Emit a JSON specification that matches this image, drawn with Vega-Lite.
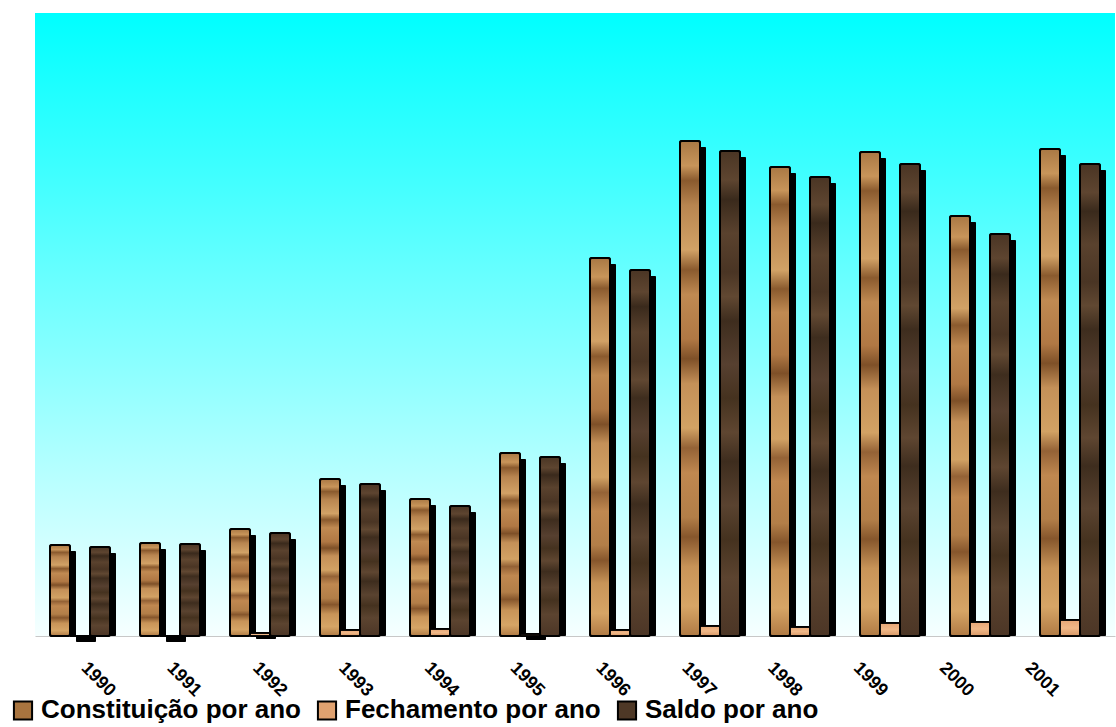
{
  "$schema": "https://vega.github.io/schema/vega-lite/v6.json",
  "width": 1080,
  "height": 623,
  "autosize": {"type": "none"},
  "padding": {"left": 35, "top": 13, "right": 1, "bottom": 91},
  "background": "white",
  "config": {
    "font": "Liberation Sans",
    "view": {
      "stroke": null,
      "fill": {
        "gradient": "linear",
        "x1": 0, "y1": 0, "x2": 0, "y2": 1,
        "stops": [
          {"offset": 0, "color": "#00FFFF"},
          {"offset": 1, "color": "#F6FFFF"}
        ]
      }
    }
  },
  "data": {
    "values": [
      {"ano": "1990", "serie": "Constituição por ano", "valor": 876},
      {"ano": "1990", "serie": "Fechamento por ano", "valor": 0},
      {"ano": "1990", "serie": "Saldo por ano", "valor": 857},
      {"ano": "1991", "serie": "Constituição por ano", "valor": 896},
      {"ano": "1991", "serie": "Fechamento por ano", "valor": 0},
      {"ano": "1991", "serie": "Saldo por ano", "valor": 886},
      {"ano": "1992", "serie": "Constituição por ano", "valor": 1030},
      {"ano": "1992", "serie": "Fechamento por ano", "valor": 29},
      {"ano": "1992", "serie": "Saldo por ano", "valor": 992},
      {"ano": "1993", "serie": "Constituição por ano", "valor": 1512},
      {"ano": "1993", "serie": "Fechamento por ano", "valor": 58},
      {"ano": "1993", "serie": "Saldo por ano", "valor": 1464},
      {"ano": "1994", "serie": "Constituição por ano", "valor": 1319},
      {"ano": "1994", "serie": "Fechamento por ano", "valor": 67},
      {"ano": "1994", "serie": "Saldo por ano", "valor": 1252},
      {"ano": "1995", "serie": "Constituição por ano", "valor": 1762},
      {"ano": "1995", "serie": "Fechamento por ano", "valor": 19},
      {"ano": "1995", "serie": "Saldo por ano", "valor": 1724},
      {"ano": "1996", "serie": "Constituição por ano", "valor": 3640},
      {"ano": "1996", "serie": "Fechamento por ano", "valor": 58},
      {"ano": "1996", "serie": "Saldo por ano", "valor": 3525},
      {"ano": "1997", "serie": "Constituição por ano", "valor": 4767},
      {"ano": "1997", "serie": "Fechamento por ano", "valor": 96},
      {"ano": "1997", "serie": "Saldo por ano", "valor": 4671},
      {"ano": "1998", "serie": "Constituição por ano", "valor": 4517},
      {"ano": "1998", "serie": "Fechamento por ano", "valor": 87},
      {"ano": "1998", "serie": "Saldo por ano", "valor": 4420},
      {"ano": "1999", "serie": "Constituição por ano", "valor": 4661},
      {"ano": "1999", "serie": "Fechamento por ano", "valor": 125},
      {"ano": "1999", "serie": "Saldo por ano", "valor": 4545},
      {"ano": "2000", "serie": "Constituição por ano", "valor": 4045},
      {"ano": "2000", "serie": "Fechamento por ano", "valor": 135},
      {"ano": "2000", "serie": "Saldo por ano", "valor": 3871},
      {"ano": "2001", "serie": "Constituição por ano", "valor": 4690},
      {"ano": "2001", "serie": "Fechamento por ano", "valor": 154},
      {"ano": "2001", "serie": "Saldo por ano", "valor": 4545}
    ]
  },
  "resolve": {"scale": {"xOffset": "independent", "y": "independent"}},
  "layer": [
    {
      "description": "drop shadows: same bars, shifted right by the band align and down by a shifted y domain",
      "mark": {"type": "bar", "color": "black", "cornerRadius": 1},
      "encoding": {
        "x": {"field": "ano", "type": "nominal", "scale": {"paddingInner": 0, "paddingOuter": 0},
          "axis": {
            "title": null, "ticks": false, "domainColor": "#C8C8C8", "domainWidth": 1,
            "labelAngle": 45, "labelAlign": "left", "labelBaseline": "middle",
            "labelFont": "Liberation Sans", "labelFontWeight": "bold", "labelFontSize": 18,
            "labelColor": "black", "labelPadding": 29,
            "labelOffset": {"expr": "4 - datum.index * 46"}
          }},
        "xOffset": {"field": "serie", "type": "nominal",
          "scale": {"domain": ["Constituição por ano", "Fechamento por ano", "Saldo por ano"], "paddingInner": 0, "paddingOuter": 0.75, "align": 0.7}},
        "y": {"field": "valor", "type": "quantitative", "axis": null,
          "scale": {"domain": [58, 6058], "zero": false, "nice": false}},
        "y2": {"datum": 58}
      }
    },
    {
      "mark": {"type": "bar", "stroke": "black", "strokeWidth": 2, "cornerRadius": 2},
      "encoding": {
        "x": {"field": "ano", "type": "nominal", "scale": {"paddingInner": 0, "paddingOuter": 0}},
        "xOffset": {"field": "serie", "type": "nominal",
          "scale": {"domain": ["Constituição por ano", "Fechamento por ano", "Saldo por ano"], "paddingInner": 0, "paddingOuter": 0.75}},
        "y": {"field": "valor", "type": "quantitative", "axis": null,
          "scale": {"domain": [0, 6000], "nice": false}},
        "color": {
          "field": "serie", "type": "nominal",
          "scale": {"domain": ["Constituição por ano", "Fechamento por ano", "Saldo por ano"],
                    "range": ["#A8743F", "#E0A270", "#4E3826"]},
          "legend": {
            "title": null, "orient": "none", "legendX": -25, "legendY": 684,
            "direction": "horizontal", "padding": 0,
            "symbolType": "square", "symbolSize": 330, "symbolStrokeColor": "black",
            "symbolStrokeWidth": 2, "symbolOpacity": 1,
            "labelFont": "Liberation Sans", "labelFontWeight": "bold", "labelFontSize": 26,
            "labelColor": "black", "labelOffset": 5, "columnPadding": 12, "labelLimit": 400
          }
        }
      }
    },
    {
      "transform": [{"filter": "datum.serie === 'Constituição por ano'"}],
      "mark": {"type": "bar", "stroke": "black", "strokeWidth": 2, "cornerRadius": 2,
        "fill": {
          "gradient": "linear", "x1": 0, "y1": 0, "x2": 0, "y2": 1,
          "stops": [
            {"offset": 0, "color": "#A97844"},
            {"offset": 0.05, "color": "#C8955A"},
            {"offset": 0.08, "color": "#8A5A2E"},
            {"offset": 0.13, "color": "#B88550"},
            {"offset": 0.22, "color": "#D2A266"},
            {"offset": 0.26, "color": "#8A5A2E"},
            {"offset": 0.31, "color": "#C08A52"},
            {"offset": 0.4, "color": "#B07844"},
            {"offset": 0.44, "color": "#7E5028"},
            {"offset": 0.49, "color": "#C49058"},
            {"offset": 0.58, "color": "#D2A264"},
            {"offset": 0.62, "color": "#946236"},
            {"offset": 0.67, "color": "#C08850"},
            {"offset": 0.76, "color": "#B27E48"},
            {"offset": 0.8, "color": "#86562C"},
            {"offset": 0.86, "color": "#C89458"},
            {"offset": 0.94, "color": "#D6A566"},
            {"offset": 1, "color": "#B07A44"}
          ]
        }},
      "encoding": {
        "x": {"field": "ano", "type": "nominal", "scale": {"paddingInner": 0, "paddingOuter": 0}},
        "xOffset": {"field": "serie", "type": "nominal",
          "scale": {"domain": ["Constituição por ano", "Fechamento por ano", "Saldo por ano"], "paddingInner": 0, "paddingOuter": 0.75}},
        "y": {"field": "valor", "type": "quantitative", "axis": null,
          "scale": {"domain": [0, 6000], "nice": false}}
      }
    },
    {
      "transform": [{"filter": "datum.serie === 'Fechamento por ano'"}],
      "mark": {"type": "bar", "stroke": "black", "strokeWidth": 1.5, "cornerRadius": 1,
        "fill": {
          "gradient": "linear", "x1": 0, "y1": 0, "x2": 0, "y2": 1,
          "stops": [
            {"offset": 0, "color": "#E6A676"},
            {"offset": 0.5, "color": "#F0B888"},
            {"offset": 1, "color": "#D89866"}
          ]
        }},
      "encoding": {
        "x": {"field": "ano", "type": "nominal", "scale": {"paddingInner": 0, "paddingOuter": 0}},
        "xOffset": {"field": "serie", "type": "nominal",
          "scale": {"domain": ["Constituição por ano", "Fechamento por ano", "Saldo por ano"], "paddingInner": 0, "paddingOuter": 0.75}},
        "y": {"field": "valor", "type": "quantitative", "axis": null,
          "scale": {"domain": [0, 6000], "nice": false}}
      }
    },
    {
      "transform": [{"filter": "datum.serie === 'Saldo por ano'"}],
      "mark": {"type": "bar", "stroke": "black", "strokeWidth": 2, "cornerRadius": 2,
        "fill": {
          "gradient": "linear", "x1": 0, "y1": 0, "x2": 0, "y2": 1,
          "stops": [
            {"offset": 0, "color": "#4A3524"},
            {"offset": 0.06, "color": "#5E4530"},
            {"offset": 0.1, "color": "#3A2A1C"},
            {"offset": 0.17, "color": "#5A422E"},
            {"offset": 0.25, "color": "#4A3524"},
            {"offset": 0.3, "color": "#614832"},
            {"offset": 0.35, "color": "#3E2D1E"},
            {"offset": 0.44, "color": "#574030"},
            {"offset": 0.51, "color": "#45321F"},
            {"offset": 0.58, "color": "#5F4631"},
            {"offset": 0.64, "color": "#3E2D1E"},
            {"offset": 0.73, "color": "#5A4330"},
            {"offset": 0.8, "color": "#45321F"},
            {"offset": 0.88, "color": "#5C4430"},
            {"offset": 1, "color": "#4C3626"}
          ]
        }},
      "encoding": {
        "x": {"field": "ano", "type": "nominal", "scale": {"paddingInner": 0, "paddingOuter": 0}},
        "xOffset": {"field": "serie", "type": "nominal",
          "scale": {"domain": ["Constituição por ano", "Fechamento por ano", "Saldo por ano"], "paddingInner": 0, "paddingOuter": 0.75}},
        "y": {"field": "valor", "type": "quantitative", "axis": null,
          "scale": {"domain": [0, 6000], "nice": false}}
      }
    }
  ]
}
